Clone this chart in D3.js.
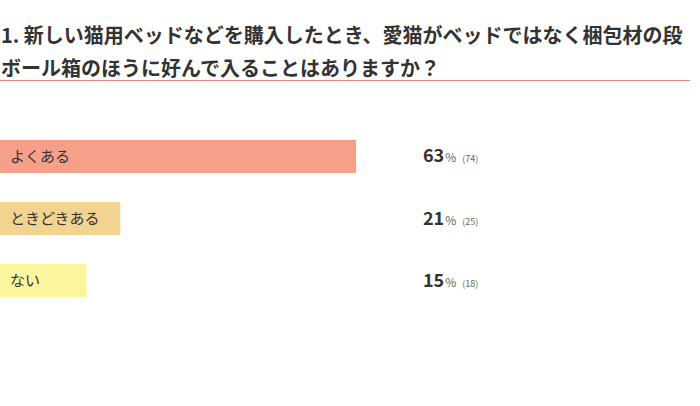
<!DOCTYPE html>
<html><head><meta charset="utf-8">
<script src="https://cdn.jsdelivr.net/npm/d3@7"></script>
<style>
html,body{margin:0;padding:0;background:#fff;}
svg{display:block;font-family:"Noto Sans CJK JP","Noto Sans",sans-serif;}
</style></head>
<body><svg id="c" width="700" height="406"></svg>
<script>
const titleLines = ["1. 新しい猫用ベッドなどを購入したとき、愛猫がベッドではなく梱包材の段", "ボール箱のほうに好んで入ることはありますか？"];
const categories = ["よくある", "ときどきある", "ない"];
const percents = [63, 21, 15];
const counts = [74, 25, 18];
const colors = ["#f6a08a", "#f2d390", "#fbf59d"];

const svg = d3.select("#c");
const total = d3.sum(counts);

svg.selectAll("text.title").data(titleLines).join("text")
  .attr("class","title")
  .attr("x", 1).attr("y", (d,i)=>43 + i*33)
  .attr("font-size", 20).attr("font-weight", 700).attr("fill", "#333")
  .text(d=>d);

svg.append("line").attr("x1",0).attr("x2",690).attr("y1",80.5).attr("y2",80.5)
  .attr("stroke","#e9878d").attr("stroke-width",1.2);

const x = d3.scaleLinear().domain([0, total]).range([0, 563]);
const y = d3.scaleBand().domain(categories).range([140, 297]).paddingInner(0.468).paddingOuter(0);

const g = svg.append("g");
g.selectAll("rect").data(categories).join("rect")
  .attr("x", 0).attr("y", d=>y(d)).attr("height", y.bandwidth())
  .attr("width", (d,i)=>x(counts[i])).attr("fill", (d,i)=>colors[i]);

g.selectAll("text.lab").data(categories).join("text")
  .attr("class","lab")
  .attr("x", 10).attr("y", d=>y(d)+y.bandwidth()/2 + 5.5)
  .attr("font-size", 15).attr("fill", "#333")
  .text(d=>d);

const vt = g.selectAll("text.val").data(categories).join("text")
  .attr("class","val")
  .attr("x", 423).attr("y", d=>y(d)+y.bandwidth()/2 + 6);
vt.append("tspan").attr("font-size", 18).attr("font-weight", 700).attr("fill", "#333")
  .text((d,i)=>percents[i]);
vt.append("tspan").attr("font-size", 12).attr("fill", "#666").attr("dx", 1).text("%");
vt.append("tspan").attr("font-size", 9).attr("fill", "#666").attr("dx", 6).text((d,i)=>"(" + counts[i] + ")");
</script></body></html>
